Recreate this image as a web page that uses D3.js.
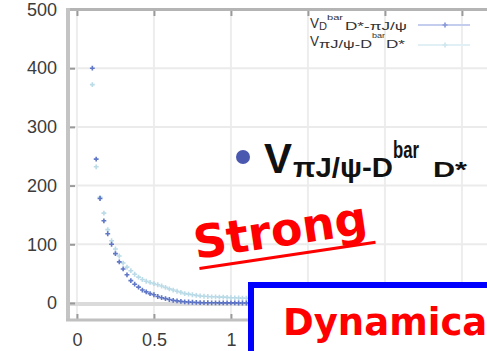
<!DOCTYPE html>
<head>
	<meta charset="utf-8">
	<script type="text/javascript" src="https://d3js.org/d3.v7.min.js"></script>
	<style>
		body { margin: 0; background: #fff; }
		svg { display: block; }
	</style>
</head>
<body>
	<script type="text/javascript">

	// distance r (fm) and potentials (MeV)
	var rValues = [0.1, 0.125, 0.15, 0.175, 0.2, 0.225, 0.25, 0.275, 0.3, 0.325,
		0.35, 0.375, 0.4, 0.425, 0.45, 0.475, 0.5, 0.525, 0.55, 0.575,
		0.6, 0.625, 0.65, 0.675, 0.7, 0.725, 0.75, 0.775, 0.8, 0.825,
		0.85, 0.875, 0.9, 0.925, 0.95, 0.975, 1.0, 1.025, 1.05, 1.075,
		1.1, 1.125, 1.15, 1.3, 1.5, 2.0, 2.5, 3.0];
	var vDbarToPsi = [400, 245, 178, 140, 118, 100, 84, 70, 58, 48,
		38, 32, 27, 22, 19, 16, 14, 11, 9, 7.5,
		6, 4.5, 3.5, 2.7, 2, 1.6, 1.2, 0.9, 0.6, 0.5,
		0.4, 0.3, 0.3, 0.2, 0.2, 0.1, 0.1, 0.1, 0, 0,
		0, 0, 0, 0, 0, 0, 0, 0];
	var vPsiToDbar = [372, 232, 180, 153, 125, 106, 92, 80, 68, 61,
		55, 49, 44, 40, 37, 35, 33, 31, 29, 26.5,
		24, 22, 20, 18, 16, 15, 14, 13, 12, 11.5,
		11, 10.5, 10.5, 10, 10, 9.5, 9, 8.8, 8.5, 8.2,
		8, 7.7, 7.5, 6.5, 5, 3.5, 2, 1];
	var xTicks = [0, 0.5, 1, 1.5, 2, 2.5];
	var xLabels = [0, 0.5, 1];
	var yTicks = [0, 100, 200, 300, 400, 500];

	var w = 487;
	var h = 351;

	var svg = d3.select("body")
	.append("svg")
	.attr("width", w)
	.attr("height", h);

	var x = d3.scaleLinear()
	.domain([-0.058, 3])
	.range([68, 68 + 3.058 * 154]);

	var y = d3.scaleLinear()
	.domain([-29, 500])
	.range([320, 9.5]);

	svg.append("clipPath").attr("id", "plot")
	.append("rect")
	.attr("x", 68).attr("y", 9.5)
	.attr("width", w - 68).attr("height", 320 - 9.5);

	// grid
	svg.selectAll("line.vgrid")
	.data(xTicks)
	.enter()
	.append("line")
	.attr("class", "vgrid")
	.attr("x1", function(d){ return x(d); })
	.attr("x2", function(d){ return x(d); })
	.attr("y1", 10)
	.attr("y2", 320)
	.attr("stroke", "#ededed")
	.attr("stroke-width", 2);

	svg.selectAll("line.hgrid")
	.data(yTicks.slice(1, 5))
	.enter()
	.append("line")
	.attr("class", "hgrid")
	.attr("x1", 68)
	.attr("x2", w)
	.attr("y1", function(d){ return y(d); })
	.attr("y2", function(d){ return y(d); })
	.attr("stroke", "#ebebeb")
	.attr("stroke-width", 2);

	// zero line
	svg.append("line")
	.attr("x1", 68).attr("x2", w)
	.attr("y1", y(0) + 1).attr("y2", y(0) + 1)
	.attr("stroke", "#dadada")
	.attr("stroke-width", 4);

	// axes
	var yAxis = d3.axisLeft(y)
	.tickValues(yTicks)
	.tickSize(-7)
	.tickPadding(11);

	var gy = svg.append("g")
	.attr("transform", "translate(68,0)")
	.call(yAxis);

	var xAxis = d3.axisBottom(x)
	.tickValues(xLabels)
	.tickFormat(d3.format("~g"))
	.tickSize(-6)
	.tickPadding(13);

	var gx = svg.append("g")
	.attr("transform", "translate(0,320)")
	.call(xAxis);

	var gxTop = svg.append("g")
	.attr("transform", "translate(0,10)")
	.call(d3.axisTop(x).tickValues(xTicks).tickSize(-6).tickFormat(""));

	[gx, gy, gxTop].forEach(function(g){
		g.select(".domain").remove();
		g.selectAll(".tick line").attr("stroke", "#9a9a9a").attr("stroke-width", 2);
		g.selectAll(".tick text")
		.attr("font-family", "Liberation Sans, Arial, sans-serif")
		.attr("font-size", "18px")
		.attr("fill", "#3c3c3c");
	});

	// frame
	svg.append("line")
	.attr("x1", 67).attr("x2", w)
	.attr("y1", 9.5).attr("y2", 9.5)
	.attr("stroke", "#b4b4b4")
	.attr("stroke-width", 3);

	svg.append("line")
	.attr("x1", 68).attr("x2", 68)
	.attr("y1", 8).attr("y2", 321)
	.attr("stroke", "#c4c4c4")
	.attr("stroke-width", 4);

	svg.append("line")
	.attr("x1", 66).attr("x2", w)
	.attr("y1", 320).attr("y2", 320)
	.attr("stroke", "#c0c0c0")
	.attr("stroke-width", 3);

	// points
	var series = [
		{vals: vPsiToDbar, mark: "#b3d7e4"},
		{vals: vDbarToPsi, mark: "#5069c2"}
	];

	var plot = svg.append("g").attr("clip-path", "url(#plot)");

	series.forEach(function(s){
		var pts = rValues.map(function(r, i){ return [r, s.vals[i]]; });
		plot.append("g")
		.selectAll("path")
		.data(pts)
		.enter()
		.append("path")
		.attr("d", d3.symbol(d3.symbolCross, 13))
		.attr("transform", function(d){ return "translate(" + x(d[0]) + "," + y(d[1]) + ")"; })
		.attr("fill", s.mark)
		.attr("opacity", 0.9);
	});

	// legend
	var legend = svg.append("g")
	.attr("font-family", "Liberation Sans, Arial, sans-serif")
	.attr("fill", "#333");

	var legendRows = [
		{y: 28, parts: [["V", 310, 0, 14, 9], ["D", 319, 2, 11, 8], ["bar", 327, -8, 8, 16], ["D*-πJ/ψ", 345, 2, 11, 62]], line: "#c4cdee", mark: "#8a9ad8", ly: 25},
		{y: 46, parts: [["V", 310, 0, 14, 9], ["πJ/ψ-D", 319, 2, 11, 53], ["bar", 372, -8, 8, 13], ["D*", 386, 2, 11, 19]], line: "#e0f0f4", mark: "#cfe6ee", ly: 45}
	];

	legendRows.forEach(function(row){
		var t = legend.append("text");
		row.parts.forEach(function(p){
			t.append("tspan")
			.attr("x", p[1])
			.attr("y", row.y + p[2])
			.attr("font-size", p[3] + "px")
			.attr("textLength", p[4])
			.attr("lengthAdjust", "spacingAndGlyphs")
			.text(p[0]);
		});
		legend.append("line")
		.attr("x1", 418).attr("x2", 470).attr("y1", row.ly).attr("y2", row.ly)
		.attr("stroke", row.line).attr("stroke-width", 2);
		legend.append("path")
		.attr("d", d3.symbol(d3.symbolCross, 14))
		.attr("transform", "translate(445," + row.ly + ")")
		.attr("fill", row.mark);
	});

	// big label
	svg.append("circle")
	.attr("cx", 243).attr("cy", 157).attr("r", 7)
	.attr("fill", "#4a58b0");

	var big = svg.append("text")
	.attr("font-family", "Liberation Sans, Arial, sans-serif")
	.attr("font-weight", "bold")
	.attr("fill", "#111")
	.attr("y", 173);
	big.append("tspan").attr("x", 264).attr("font-size", "42px")
	.attr("textLength", 28).attr("lengthAdjust", "spacingAndGlyphs").text("V");
	big.append("tspan").attr("x", 293).attr("y", 177).attr("font-size", "27px")
	.attr("textLength", 100).attr("lengthAdjust", "spacingAndGlyphs").text("πJ/ψ-D");
	big.append("tspan").attr("x", 393).attr("y", 158).attr("font-size", "24px")
	.attr("textLength", 26).attr("lengthAdjust", "spacingAndGlyphs").text("bar");
	big.append("tspan").attr("x", 433).attr("y", 177).attr("font-size", "22px")
	.attr("textLength", 34).attr("lengthAdjust", "spacingAndGlyphs").text("D*");

	// Strong
	var strong = svg.append("g")
	.attr("transform", "translate(196,259) rotate(-8.5)");
	strong.append("text")
	.attr("font-family", "DejaVu Sans, sans-serif")
	.attr("font-weight", "bold")
	.attr("font-size", "46px")
	.attr("fill", "#ff0000")
	.text("Strong");
	strong.append("line")
	.attr("x1", 2).attr("x2", 180)
	.attr("y1", 10).attr("y2", 10)
	.attr("stroke", "#ff0000")
	.attr("stroke-width", 3);

	// Dynamical box
	svg.append("rect")
	.attr("x", 251).attr("y", 285)
	.attr("width", 260).attr("height", 100)
	.attr("fill", "#fff")
	.attr("stroke", "#0000ff")
	.attr("stroke-width", 6);

	svg.append("text")
	.attr("x", 283).attr("y", 335)
	.attr("font-family", "DejaVu Sans, sans-serif")
	.attr("font-weight", "bold")
	.attr("font-size", "37px")
	.attr("fill", "#ff0000")
	.text("Dynamical");

	</script>
</body>
</html>
